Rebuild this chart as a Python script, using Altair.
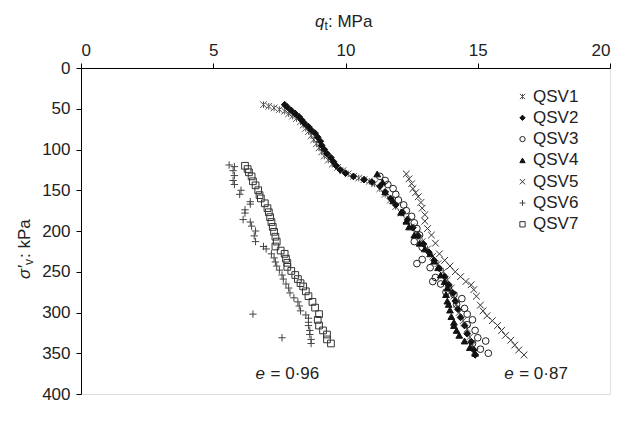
import altair as alt
import pandas as pd

FONT = "Liberation Sans"
INK = "#222222"

# q_t (MPa) and vertical effective stress (kPa) for each test
qsv1_q = [6.9, 7.1, 7.3, 7.5, 7.7, 7.85, 8.0, 8.15, 8.3, 8.4, 8.5, 8.6, 8.7, 8.8, 8.9, 9.0, 9.1, 9.2,
          9.35, 9.5, 9.7, 9.9, 10.1, 10.3, 10.5, 10.7, 10.9, 11.1, 11.3, 11.5, 11.7, 11.9, 12.1, 12.3,
          12.5, 12.7, 12.9, 13.1, 13.3, 13.5, 13.7, 13.85, 14.0, 14.1, 14.2, 14.3, 14.45, 14.6, 14.7,
          14.8, 14.9]
qsv1_s = [45, 47, 49, 51, 53, 56, 59, 62, 66, 70, 74, 78, 83, 88, 93, 98, 103, 108,
          113, 118, 122, 126, 130, 133, 135, 137, 139, 142, 148, 155, 162, 170, 178, 186,
          195, 204, 213, 222, 231, 240, 250, 260, 270, 280, 290, 300, 310, 320, 330,
          340, 348]

qsv2_q = [7.7, 7.8, 7.95, 8.1, 8.25, 8.35, 8.45, 8.6, 8.7, 8.85, 8.95, 9.05, 9.1, 9.2, 9.3, 9.45,
          9.55, 9.65, 9.8, 10.0, 10.3, 10.7, 11.0, 11.3, 11.5, 11.7, 11.9, 12.15, 12.35, 12.55, 12.75,
          12.95, 13.15, 13.35, 13.55, 13.75, 13.9, 14.05, 14.15, 14.25, 14.35, 14.5, 14.6, 14.75,
          14.85, 14.9]
qsv2_s = [45, 48, 52, 56, 60, 64, 68, 72, 76, 80, 85, 90, 95, 100, 105, 110,
          115, 120, 125, 129, 133, 137, 140, 145, 152, 160, 168, 177, 186, 196, 206,
          216, 226, 236, 246, 256, 266, 276, 286, 296, 306, 316, 326, 336,
          346, 352]

qsv3_q = [11.3, 11.5, 11.6, 11.8, 11.9, 12.0, 12.2, 12.3, 12.5, 12.6, 12.7, 12.8, 12.6, 12.9, 12.9,
          12.7, 13.2, 13.4, 13.3, 13.6, 13.9, 13.8, 14.1, 14.4, 14.2, 14.5, 14.6, 14.8, 14.6, 14.9,
          15.0, 14.8, 15.3, 15.1, 15.4]
qsv3_s = [133, 138, 143, 148, 155, 162, 168, 175, 182, 190, 197, 205, 213, 220, 235,
          240, 245, 257, 262, 265, 268, 275, 278, 283, 290, 295, 302, 309, 315, 322,
          331, 338, 335, 345, 350]

qsv4_q = [11.2, 11.4, 11.5, 11.8, 12.1, 12.3, 12.4, 12.6, 12.8, 13.0, 13.2, 13.35, 13.5, 13.6,
          13.75, 13.85, 13.8, 13.85, 13.9, 13.95, 14.0, 14.1, 14.1, 14.2, 14.3, 14.5, 14.7, 14.9]
qsv4_s = [130, 140, 152, 163, 177, 188, 195, 205, 215, 222, 228, 237, 245, 254,
          262, 270, 278, 286, 290, 297, 305, 312, 316, 322, 328, 335, 343, 350]

qsv5_q = [12.3, 12.4, 12.5, 12.55, 12.65, 12.75, 12.85, 12.9, 13.0, 13.0, 13.1, 13.25, 13.4, 13.55,
          13.75, 13.95, 14.15, 14.35, 14.55, 14.75, 14.85, 14.95, 15.1, 15.2, 15.35, 15.55, 15.75,
          15.9, 16.05, 16.25, 16.4, 16.55, 16.75]
qsv5_s = [130, 136, 142, 148, 153, 158, 165, 172, 180, 188, 197, 205, 215, 228,
          236, 243, 250, 256, 262, 266, 272, 280, 291, 298, 304, 310, 316, 322,
          328, 334, 340, 346, 352]

qsv6_q = [5.6, 5.8, 5.75, 5.8, 5.75, 5.8, 6.05, 6.0, 6.4, 6.4, 6.2, 6.2, 6.13, 6.4, 6.45, 6.6,
          6.55, 6.6, 6.9, 7.0, 7.2, 7.3, 7.35, 7.4, 7.5, 7.6, 7.65, 7.75, 7.85, 7.9, 8.05, 8.2,
          8.25, 8.3, 8.5, 8.6, 8.6, 8.6, 8.65, 8.65, 8.7, 8.7, 6.5, 7.6]
qsv6_s = [119, 121, 126, 132, 138, 143, 150, 155, 164, 167, 174, 178, 186, 189, 194, 200,
          206, 213, 219, 222, 228, 233, 238, 243, 248, 254, 259, 265, 270, 276, 282, 287,
          292, 298, 303, 307, 312, 316, 322, 327, 333, 338, 302, 331]

qsv7_q = [6.2, 6.3, 6.35, 6.45, 6.5, 6.6, 6.7, 6.75, 6.8, 6.95, 7.05, 7.1, 7.15, 7.2, 7.25, 7.3,
          7.35, 7.4, 7.35, 7.55, 7.7, 7.75, 7.8, 7.8, 7.95, 8.1, 8.2, 8.3, 8.4, 8.5, 8.6, 8.75,
          8.85, 9.0, 8.95, 9.0, 9.15, 9.3, 9.3, 9.45]
qsv7_s = [120, 124, 128, 133, 139, 144, 150, 156, 160, 166, 172, 177, 183, 189, 195, 201,
          207, 213, 219, 224, 228, 234, 239, 244, 249, 254, 259, 264, 268, 274, 280, 287,
          294, 302, 309, 316, 322, 327, 333, 338]

names = ["QSV1", "QSV2", "QSV3", "QSV4", "QSV5", "QSV6", "QSV7"]
shapes = [
    "M-1,-1L1,1M-1,1L1,-1M0,-1L0,1",
    "diamond",
    "circle",
    "triangle-up",
    "M-1,-1L1,1M-1,1L1,-1",
    "M-1.1,0L1.1,0M0,-1.1L0,1.1",
    "square",
]
strokes = ["#555555", "#111111", "#222222", "#111111", "#333333", "#444444", "#333333"]
fills = ["transparent", "#111111", "transparent", "#111111", "transparent", "transparent", "transparent"]

# void ratio labels for the two groups
ann_q = [6.6, 16.0]
ann_s = [375, 375]
ann_txt = ["= 0·96", "= 0·87"]

series_q = [qsv1_q, qsv2_q, qsv3_q, qsv4_q, qsv5_q, qsv6_q, qsv7_q]
series_s = [qsv1_s, qsv2_s, qsv3_s, qsv4_s, qsv5_s, qsv6_s, qsv7_s]
rows = []
for name, qs, ss in zip(names, series_q, series_s):
    for q, s in zip(qs, ss):
        rows.append({"series": name, "qt": q, "sv": s})
df = pd.DataFrame(rows)
ann = pd.DataFrame({"qt": ann_q, "sv": ann_s, "label": ann_txt})

LEFT, TOP, W, H = 81, 68, 529, 326
x_scale = alt.Scale(domain=[0, 20], nice=False, zero=False)
y_scale = alt.Scale(domain=[0, 400], reverse=True, nice=False)

leg = alt.Legend(
    title=None, orient="none", legendX=433, legendY=20, padding=0,
    labelFont=FONT, labelFontSize=17, labelColor=INK, labelOffset=2,
    symbolSize=28, symbolStrokeWidth=1, rowPadding=3.3,
)

x_axis = alt.Axis(orient="top", values=[0, 5, 10, 15, 20], title=None, grid=False,
                  labelFont=FONT, labelFontSize=17, labelColor=INK, labelPadding=4,
                  tickSize=5, tickColor="black", domainColor="black", format="d")
y_axis = alt.Axis(values=list(range(0, 401, 50)), title=None, grid=False,
                  labelFont=FONT, labelFontSize=17, labelColor=INK, labelPadding=6,
                  tickSize=5, tickColor="black", domainColor="black", format="d")

points = alt.Chart(df).mark_point(filled=False, size=45, strokeWidth=1, opacity=1).encode(
    x=alt.X("qt:Q", scale=x_scale, axis=x_axis),
    y=alt.Y("sv:Q", scale=y_scale, axis=y_axis),
    shape=alt.Shape("series:N", scale=alt.Scale(domain=names, range=shapes), legend=leg),
    stroke=alt.Stroke("series:N", scale=alt.Scale(domain=names, range=strokes), legend=leg),
    fill=alt.Fill("series:N", scale=alt.Scale(domain=names, range=fills), legend=leg),
)

e_mark = alt.Chart(ann).mark_text(
    text="e", font=FONT, fontSize=17, fontStyle="italic", align="left", baseline="middle", color=INK
).encode(x="qt:Q", y="sv:Q")
e_rest = alt.Chart(ann).mark_text(
    font=FONT, fontSize=17, align="left", baseline="middle", dx=15, color=INK
).encode(x="qt:Q", y="sv:Q", text="label:N")

# x-axis title: italic q with subscript t
xt_q = alt.Chart().mark_text(text="q", font=FONT, fontSize=17, fontStyle="italic",
                             align="left", color=INK).encode(x=alt.value(234), y=alt.value(-46))
xt_t = alt.Chart().mark_text(text="t", font=FONT, fontSize=12,
                             align="left", color=INK).encode(x=alt.value(243.5), y=alt.value(-42))
xt_r = alt.Chart().mark_text(text=": MPa", font=FONT, fontSize=17,
                             align="left", color=INK).encode(x=alt.value(247), y=alt.value(-46))

# y-axis title: italic sigma prime with subscript v, rotated
yt_s = alt.Chart().mark_text(text="σ′", font=FONT, fontSize=17, fontStyle="italic", angle=270,
                             align="left", color=INK).encode(x=alt.value(-56), y=alt.value(211))
yt_v = alt.Chart().mark_text(text="v", font=FONT, fontSize=12, angle=270,
                             align="left", color=INK).encode(x=alt.value(-52), y=alt.value(197))
yt_r = alt.Chart().mark_text(text=": kPa", font=FONT, fontSize=17, angle=270,
                             align="left", color=INK).encode(x=alt.value(-56), y=alt.value(190))

chart = alt.layer(points, e_mark, e_rest, xt_q, xt_t, xt_r, yt_s, yt_v, yt_r).properties(
    width=W, height=H,
    autosize=alt.AutoSizeParams(type="none"),
    padding={"left": LEFT, "top": TOP, "right": 632 - LEFT - W, "bottom": 438 - TOP - H},
).configure_view(stroke=None).configure(background="white")

chart.save("out.html", embed_options={"renderer": "svg", "actions": False})
